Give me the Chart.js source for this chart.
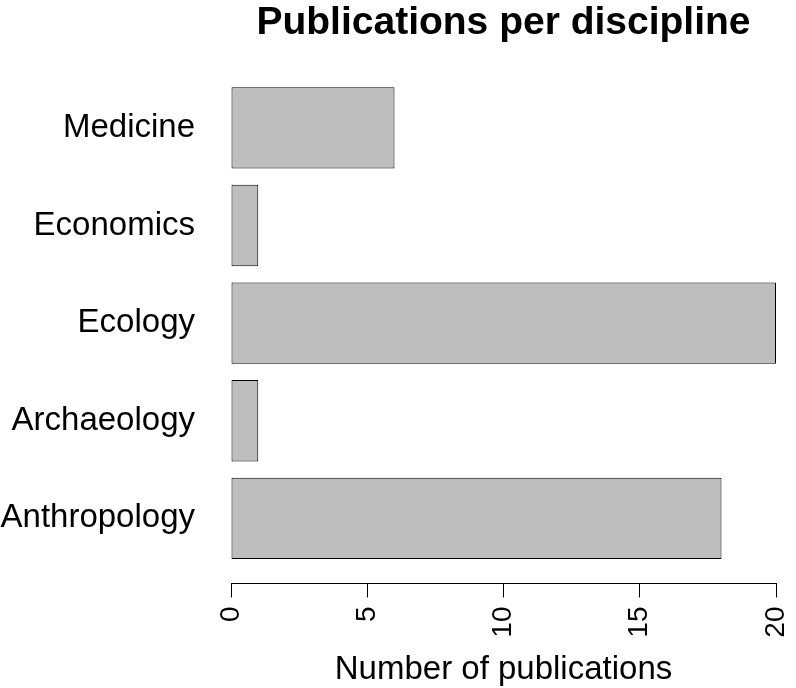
<!DOCTYPE html>
<html>
<head>
<meta charset="utf-8">
<title>Publications per discipline</title>
<script src="https://cdn.jsdelivr.net/npm/chart.js@4/dist/chart.umd.min.js"></script>
<style>
  html, body { margin: 0; padding: 0; background: #fff; }
  #wrap { width: 796px; height: 688px; }
</style>
</head>
<body>
<div id="wrap"><canvas id="pubChart" width="796" height="688"></canvas></div>
<script>
// bottom to top, like the R barplot
const disciplines = ['Anthropology', 'Archaeology', 'Ecology', 'Economics', 'Medicine'];
const publications = [18, 1, 20, 1, 6];
const xTicks = [0, 5, 10, 15, 20];

// barplot puts bar i at 0.7 + 1.2 * i (width 1, space 0.2)
const slots = disciplines.map((d, i) => 0.7 + 1.2 * i);

const fontFamily = '"Liberation Sans", Arial, Helvetica, sans-serif';

const ctx = document.getElementById('pubChart').getContext('2d');

new Chart(ctx, {
  type: 'bar',
  data: {
    datasets: [{
      label: 'Number of publications',
      data: disciplines.map((d, i) => ({ x: publications[i], y: slots[i] })),
      backgroundColor: '#bebebe',
      borderColor: '#000',
      borderWidth: 1,
      borderSkipped: false,
      categoryPercentage: 1,
      barPercentage: 1 / 1.2
    }]
  },
  options: {
    indexAxis: 'y',
    responsive: false,
    animation: false,
    layout: { padding: { left: 0, right: 20, top: 0, bottom: 0 } },
    scales: {
      x: {
        type: 'linear',
        min: 0,
        max: 20,
        afterBuildTicks: scale => { scale.ticks = xTicks.map(v => ({ value: v })); },
        afterFit: scale => {
          // the rotated end labels should not push the plot in
          scale.paddingLeft = 0;
          scale.paddingRight = 0;
          scale.height = 104.5;
        },
        border: { display: true, color: '#000', width: 1 },
        grid: { display: true, drawOnChartArea: false, tickLength: 14, tickColor: '#000', tickWidth: 1 },
        ticks: {
          color: '#000',
          font: { family: fontFamily, size: 28 },
          minRotation: 90,
          maxRotation: 90,
          autoSkip: false,
          padding: 9
        },
        title: {
          display: true,
          text: 'Number of publications',
          color: '#000',
          font: { family: fontFamily, size: 33, lineHeight: 1.1 },
          padding: { top: 3, bottom: 0 }
        }
      },
      y: {
        type: 'linear',
        offset: false,
        min: -0.101,
        max: 6.232,
        afterBuildTicks: scale => { scale.ticks = slots.map(v => ({ value: v })); },
        afterFit: scale => { scale.width = 231; },
        border: { display: false },
        grid: { display: false, drawTicks: false },
        ticks: {
          color: '#000',
          font: { family: fontFamily, size: 33 },
          padding: 36,
          autoSkip: false,
          callback: (value, index) => disciplines[index]
        }
      }
    },
    plugins: {
      legend: { display: false },
      tooltip: { enabled: false },
      title: {
        display: true,
        fullSize: false,
        text: 'Publications per discipline',
        color: '#000',
        font: { family: fontFamily, size: 39, weight: 'bold', lineHeight: 1.2 },
        padding: { top: 0, bottom: 21.6 }
      }
    }
  }
});
</script>
</body>
</html>
